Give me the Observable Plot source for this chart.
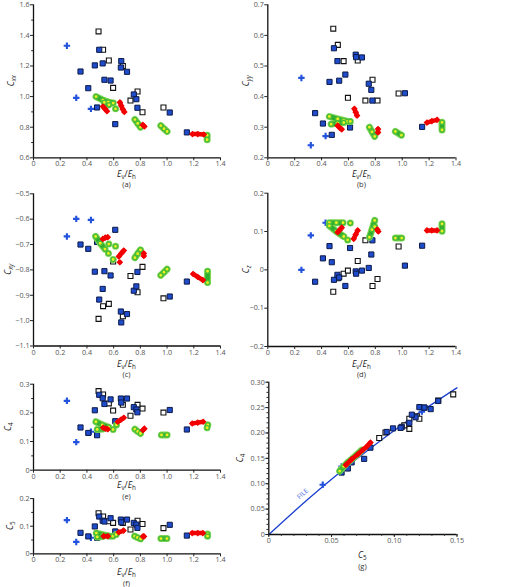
<!DOCTYPE html>
<html><head><meta charset="utf-8">
<script src="https://cdn.jsdelivr.net/npm/d3@7"></script>
<script src="https://cdn.jsdelivr.net/npm/@observablehq/plot@0.6"></script>
<style>
body{margin:0;background:#fff;}
#chart{position:relative;width:520px;height:587px;overflow:hidden;background:#fff;}
#chart svg{position:absolute !important;left:0;top:0;background:none !important;overflow:visible !important;}
</style></head><body><div id="chart"></div>
<script>
// ---------- data ----------
const plusEv  = [0.25, 0.32, 0.43];
const plusCxx = [1.332, 0.992, 0.920];
const plusCyy = [0.461, 0.241, 0.271];
const plusCxy = [-0.668, -0.599, -0.603];
const plusCz  = [0.000, 0.090, 0.123];
const plusC4  = [0.242, 0.098, 0.134];
const plusC5  = [0.122, 0.043, 0.058];

const blueEv  = [0.352,0.41,0.459,0.476,0.492,0.518,0.531,0.577,0.612,0.654,0.657,0.70,0.751,0.77,0.778,1.02,1.148];
const blueCxx = [1.164,1.055,1.204,0.929,1.306,1.217,1.110,1.105,0.820,1.190,1.232,1.162,1.014,0.983,0.927,0.896,0.766];
const blueCyy = [0.346,0.312,0.448,0.275,0.558,0.516,0.452,0.472,0.299,0.537,0.529,0.528,0.442,0.422,0.387,0.411,0.301];
const blueCxy = [-0.700,-0.717,-0.807,-0.690,-0.917,-0.875,-0.805,-0.822,-0.642,-0.964,-1.007,-0.974,-0.882,-0.865,-0.808,-0.905,-0.846];
const blueCz  = [-0.031,0.030,0.062,0.020,-0.026,-0.013,-0.020,-0.042,0.057,-0.004,-0.010,-0.002,0.005,0.040,0.077,0.011,0.063];
const blueC4  = [0.149,0.130,0.209,0.122,0.263,0.251,0.231,0.247,0.171,0.250,0.236,0.250,0.220,0.212,0.202,0.210,0.142];
const blueC5  = [0.076,0.063,0.099,0.058,0.135,0.120,0.117,0.129,0.081,0.124,0.114,0.124,0.112,0.106,0.094,0.105,0.066];

const openEv  = [0.487,0.521,0.564,0.596,0.669,0.726,0.779,0.816,0.973];
const openCxx = [1.426,1.306,1.236,1.057,1.200,0.974,1.033,0.898,0.929];
const openCyy = [0.622,0.569,0.516,0.396,0.518,0.387,0.455,0.387,0.410];
const openCxy = [-0.993,-0.943,-0.934,-0.767,-0.983,-0.824,-0.888,-0.788,-0.912];
const openCz  = [-0.057,-0.022,-0.010,-0.002,0.023,0.077,-0.042,-0.024,0.061];
const openC4  = [0.276,0.264,0.233,0.208,0.228,0.190,0.228,0.215,0.201];
const openC5  = [0.147,0.135,0.118,0.112,0.112,0.088,0.120,0.108,0.093];

// streaks: [x, y, streak id]
const greenA = [[0.468,1.000,1],[0.520,0.977,1],[0.560,0.964,1],[0.597,0.958,1],[0.530,0.962,2],[0.565,0.946,2],[0.614,0.920,3],
  [0.759,0.850,4],[0.780,0.825,4],[0.801,0.800,4],[0.953,0.810,5],[0.977,0.790,5],[1.000,0.772,5],[1.300,0.748,6],[1.300,0.718,6]];
const redA = [[0.520,0.935,1],[0.535,0.920,1],[0.550,0.905,1],[0.647,0.962,2],[0.657,0.940,2],[0.668,0.918,2],[0.680,0.900,2],
  [0.818,0.815,3],[0.830,0.805,3],[1.190,0.755,4],[1.230,0.755,4],[1.275,0.752,4]];
const greenB = [[0.458,0.335,1],[0.520,0.327,1],[0.565,0.322,1],[0.592,0.319,1],[0.614,0.319,1],[0.471,0.310,2],[0.520,0.313,2],[0.565,0.315,2],
  [0.756,0.300,3],[0.775,0.285,3],[0.795,0.270,3],[0.949,0.286,4],[0.994,0.274,4],[1.296,0.316,5],[1.296,0.291,5]];
const redB = [[0.520,0.305,1],[0.535,0.298,1],[0.550,0.293,1],[0.644,0.360,2],[0.654,0.349,2],[0.664,0.338,2],
  [0.820,0.294,3],[0.820,0.283,3],[1.184,0.315,4],[1.220,0.320,4],[1.259,0.324,4]];
const greenC = [[0.465,-0.668,1],[0.500,-0.695,1],[0.535,-0.718,1],[0.564,-0.698,2],[0.561,-0.735,3],[0.614,-0.707,4],[0.596,-0.759,5],
  [0.759,-0.752,6],[0.780,-0.736,6],[0.801,-0.721,6],[0.953,-0.821,7],[0.977,-0.809,7],[1.000,-0.797,7],[1.303,-0.805,8],[1.303,-0.850,8]];
const redC = [[0.519,-0.678,1],[0.537,-0.673,1],[0.556,-0.671,1],[0.639,-0.747,2],[0.657,-0.735,2],[0.676,-0.724,2],[0.646,-0.770,3],
  [0.826,-0.735,4],[0.826,-0.745,4],[1.195,-0.816,5],[1.230,-0.828,5],[1.268,-0.840,5]];
const greenD = [[0.458,0.123,1],[0.510,0.123,1],[0.560,0.123,1],[0.614,0.122,2],[0.458,0.115,3],[0.510,0.100,3],[0.565,0.087,3],[0.594,0.078,4],
  [0.756,0.085,5],[0.775,0.105,5],[0.795,0.129,5],[0.795,0.113,6],[0.949,0.083,7],[0.996,0.083,7],[1.296,0.120,8],[1.296,0.101,8]];
const redD = [[0.520,0.098,1],[0.535,0.104,1],[0.550,0.110,1],[0.639,0.081,2],[0.654,0.092,2],[0.669,0.103,2],
  [0.815,0.105,3],[0.822,0.100,3],[1.184,0.103,4],[1.220,0.103,4],[1.259,0.103,4]];
const greenE = [[0.467,0.169,1],[0.515,0.158,1],[0.564,0.150,1],[0.477,0.142,2],[0.520,0.144,2],[0.596,0.142,3],[0.621,0.158,4],
  [0.759,0.143,5],[0.780,0.135,5],[0.801,0.128,5],[0.958,0.123,6],[1.000,0.123,6],[1.305,0.158,7],[1.300,0.148,7]];
const redE = [[0.522,0.148,1],[0.540,0.145,1],[0.556,0.143,1],[0.631,0.169,2],[0.654,0.176,2],[0.676,0.183,2],
  [0.820,0.140,3],[0.830,0.145,3],[1.188,0.163,4],[1.230,0.166,4],[1.270,0.169,4]];
const greenF = [[0.470,0.075,1],[0.520,0.069,1],[0.570,0.064,1],[0.477,0.061,2],[0.520,0.063,2],[0.594,0.064,3],[0.619,0.070,4],
  [0.757,0.064,5],[0.778,0.059,5],[0.802,0.054,5],[0.954,0.055,6],[0.999,0.055,6],[1.303,0.072,7],[1.303,0.064,7]];
const redF = [[0.525,0.064,1],[0.557,0.064,1],[0.639,0.078,2],[0.674,0.084,2],[0.820,0.063,3],[0.827,0.063,3],
  [1.188,0.075,4],[1.230,0.075,4],[1.268,0.075,4]];
const greenG = [[0.0565,0.125,1],[0.0597,0.134,1],[0.0629,0.142,1],[0.0664,0.149,1],[0.0704,0.158,1],[0.0740,0.166,1]];
const redG = [[0.0615,0.137,1],[0.0660,0.148,1],[0.0710,0.158,1],[0.0750,0.167,1],[0.0780,0.173,1],[0.0810,0.181,1]];

// FILE curve (panel g)
const fileC5 = [0, 0.02, 0.04, 0.06, 0.08, 0.10, 0.12, 0.15];
const fileC4 = [0, 0.045, 0.088, 0.129, 0.168, 0.205, 0.240, 0.289];
const fileLabel = [{c5: 0.027, c4: 0.080, text: "FILE"}];

// tick labels
const evTicks  = [0, 0.2, 0.4, 0.6, 0.8, 1.0, 1.2, 1.4];
const cxxTicks = [0.6, 0.8, 1.0, 1.2, 1.4, 1.6];
const cxxMinor = [0.7, 0.9, 1.1, 1.3, 1.5];
const cyyTicks = [0.2, 0.3, 0.4, 0.5, 0.6, 0.7];
const cxyTicks = [-1.1, -1.0, -0.9, -0.8, -0.7, -0.6, -0.5];
const czTicks  = [-0.2, -0.1, 0, 0.1, 0.2];
const c4Ticks  = [0, 0.1, 0.2, 0.3];
const c4Minor  = [0.05, 0.15, 0.25];
const c5Ticks  = [0, 0.1, 0.2];
const c5Minor  = [0.05, 0.15];
const gXTicks  = [0, 0.05, 0.10, 0.15];
const gYTicks  = [0, 0.05, 0.10, 0.15, 0.20, 0.25, 0.30];

// ---------- build ----------
const W = 520, H = 587;
const FONT = "'Open Sans', 'Noto Sans', sans-serif";
const rows = (ev, cxx, cyy, cxy, cz, c4, c5) => ev.map((e, i) => ({ev: e, cxx: cxx[i], cyy: cyy[i], cxy: cxy[i], cz: cz[i], c4: c4[i], c5: c5[i]}));
const plusRows = rows(plusEv, plusCxx, plusCyy, plusCxy, plusCz, plusC4, plusC5);
const blueRows = rows(blueEv, blueCxx, blueCyy, blueCxy, blueCz, blueC4, blueC5);
const openRows = rows(openEv, openCxx, openCyy, openCxy, openCz, openC4, openC5);
const fileRows = fileC5.map((c, i) => ({c5: c, c4: fileC4[i]}));

const fmt = (d) => (v) => v === 0 ? "0" : (v < 0 ? "\u2212" : "") + Math.abs(v).toFixed(d);
const minorRange = (a, b, s) => d3.range(Math.round((b - a) / s) + 1).map(i => +(a + i * s).toFixed(4));

const X = d => d[0], Y = d => d[1], Z = d => d[2];
function pointMarks(kx, ky, green, red) {
  return [
    Plot.dot(plusRows, {x: kx, y: ky, symbol: "cross", r: 2.7, fill: "#2352dc"}),
    Plot.dot(openRows, {x: kx, y: ky, symbol: "square", r: 2.8, fill: "white", stroke: "#111", strokeWidth: 1.1}),
    Plot.dot(blueRows, {x: kx, y: ky, symbol: "square", r: 2.9, fill: "#1f4ccc", stroke: "#0c1a48", strokeWidth: 1}),
    Plot.line(green, {x: X, y: Y, z: Z, stroke: "#7fd655", strokeWidth: 7, strokeLinecap: "round", strokeLinejoin: "round"}),
    Plot.line(green, {x: X, y: Y, z: Z, stroke: "#2eae2e", strokeWidth: 4.6, strokeLinecap: "round", strokeLinejoin: "round"}),
    Plot.dot(green, {x: X, y: Y, r: 2.1, fill: "#f0f020", stroke: "#4cbf3a", strokeWidth: 1.4}),
    Plot.line(red, {x: X, y: Y, z: Z, stroke: "#f20000", strokeWidth: 4.5, strokeLinecap: "round"}),
    Plot.dot(red, {x: X, y: Y, symbol: "diamond2", r: 3, fill: "#f20000"})
  ];
}

const chart = document.getElementById("chart");

function rich(svg, x, y, parts, {rotate = 0, size = 8.5, fill = "#222"} = {}) {
  const t = d3.select(svg).append("text")
    .attr("transform", `translate(${x},${y}) rotate(${rotate})`)
    .attr("text-anchor", "middle").attr("font-family", FONT).attr("fill", fill);
  let shifted = false;
  for (const p of parts) {
    const s = t.append("tspan").text(p.t)
      .attr("font-style", p.i ? "italic" : "normal")
      .attr("font-size", p.sub ? size * 0.74 : size);
    if (p.sub && !shifted) { s.attr("dy", 2); shifted = true; }
    else if (!p.sub && shifted) { s.attr("dy", -2); shifted = false; }
  }
}
const evLabel = [{t: "E", i: true}, {t: "v", sub: true}, {t: "/"}, {t: "E", i: true}, {t: "h", sub: true}];

function panel(p) {
  const marks = [
    ...p.marks,
    Plot.ruleX([p.xd[0]], {stroke: "#111", strokeWidth: 1.3}),
    Plot.ruleY([p.yd[0]], {stroke: "#111", strokeWidth: 1.3}),
    Plot.axisX(p.xt, {tickSize: 3, fill: "none", stroke: "#222", label: null}),
    Plot.axisX(p.xt, {tickSize: 0, tickPadding: 3.5, stroke: "none", fill: "#555", fontSize: 7.2, tickFormat: p.xf, label: null}),
    Plot.axisY(p.yt, {tickSize: 3, fill: "none", stroke: "#222", label: null}),
    Plot.axisY(p.yt, {tickSize: 0, tickPadding: 4, stroke: "none", fill: "#555", fontSize: 7.2, tickFormat: p.yf, label: null})
  ];
  if (p.xm) marks.push(Plot.axisX(p.xm, {tickSize: 1.8, fill: "none", stroke: "#222", label: null}));
  if (p.ym) marks.push(Plot.axisY(p.ym, {tickSize: 1.8, fill: "none", stroke: "#222", label: null}));
  const svg = Plot.plot({
    width: W, height: H,
    marginLeft: p.x0, marginRight: W - p.x1, marginTop: p.y0, marginBottom: H - p.y1,
    x: {domain: p.xd, axis: null, label: null},
    y: {domain: p.yd, axis: null, label: null},
    style: {fontFamily: FONT, background: "none", overflow: "visible"},
    marks
  });
  chart.appendChild(svg);
  rich(svg, p.ylx, (p.y0 + p.y1) / 2, p.ylabel, {rotate: -90});
  rich(svg, (p.x0 + p.x1) / 2, p.xly, p.xlabel);
  rich(svg, (p.x0 + p.x1) / 2, p.xly + 10.5, [{t: p.tag}], {size: 7.5, fill: "#333"});
  return svg;
}

const L = [33, 220], R = [267.3, 455.5];
panel({x0: L[0], x1: L[1], y0: 4.3, y1: 157.3, xd: [0, 1.4], yd: [0.6, 1.6], xt: evTicks, xf: fmt(1), yt: cxxTicks, ym: cxxMinor, yf: fmt(1),
  marks: pointMarks("ev", "cxx", greenA, redA), ylx: 13.5, ylabel: [{t: "C", i: true}, {t: "xx", i: true, sub: true}], xly: 176.5, xlabel: evLabel, tag: "(a)"});
panel({x0: R[0], x1: R[1], y0: 4.3, y1: 157.3, xd: [0, 1.4], yd: [0.2, 0.7], xt: evTicks, xf: fmt(1), yt: cyyTicks, yf: fmt(1),
  marks: pointMarks("ev", "cyy", greenB, redB), ylx: 248.5, ylabel: [{t: "C", i: true}, {t: "yy", i: true, sub: true}], xly: 176.5, xlabel: evLabel, tag: "(b)"});
panel({x0: L[0], x1: L[1], y0: 193.3, y1: 345.5, xd: [0, 1.4], yd: [-1.1, -0.5], xt: evTicks, xf: fmt(1), yt: cxyTicks, yf: fmt(1),
  marks: pointMarks("ev", "cxy", greenC, redC), ylx: 11, ylabel: [{t: "C", i: true}, {t: "xy", i: true, sub: true}], xly: 366.5, xlabel: evLabel, tag: "(c)"});
panel({x0: R[0], x1: R[1], y0: 192.7, y1: 346, xd: [0, 1.4], yd: [-0.2, 0.2], xt: evTicks, xf: fmt(1), yt: czTicks, yf: fmt(1),
  marks: pointMarks("ev", "cz", greenD, redD), ylx: 249, ylabel: [{t: "C", i: true}, {t: "z", i: true, sub: true}], xly: 366.5, xlabel: evLabel, tag: "(d)"});
panel({x0: L[0], x1: L[1], y0: 383.7, y1: 469.7, xd: [0, 1.4], yd: [0, 0.3], xt: evTicks, xf: fmt(1), yt: c4Ticks, ym: c4Minor, yf: fmt(1),
  marks: pointMarks("ev", "c4", greenE, redE), ylx: 11, ylabel: [{t: "C", i: true}, {t: "4", sub: true}], xly: 488, xlabel: evLabel, tag: "(e)"});
panel({x0: L[0], x1: L[1], y0: 498.1, y1: 553.3, xd: [0, 1.4], yd: [0, 0.2], xt: evTicks, xf: fmt(1), yt: c5Ticks, ym: c5Minor, yf: fmt(1),
  marks: pointMarks("ev", "c5", greenF, redF), ylx: 13, ylabel: [{t: "C", i: true}, {t: "5", sub: true}], xly: 575, xlabel: evLabel, tag: "(f)"});
panel({x0: 268.3, x1: 456.5, y0: 381.7, y1: 534, xd: [0, 0.15], yd: [0, 0.30], xt: gXTicks, xm: minorRange(0, 0.15, 0.01), xf: fmt(2),
  yt: gYTicks, ym: minorRange(0, 0.30, 0.01), yf: fmt(2),
  marks: [
    Plot.line(fileRows, {x: "c5", y: "c4", stroke: "#1a3fd0", strokeWidth: 1.3, curve: "natural"}),
    Plot.text(fileLabel, {x: "c5", y: "c4", text: "text", rotate: -42, fill: "#3b5fe0", fontSize: 6.5}),
    ...pointMarks("c5", "c4", greenG, redG)
  ],
  ylx: 243, ylabel: [{t: "C", i: true}, {t: "4", sub: true}], xly: 558, xlabel: [{t: "C", i: true}, {t: "5", sub: true}], tag: "(g)"});
</script></body></html>
